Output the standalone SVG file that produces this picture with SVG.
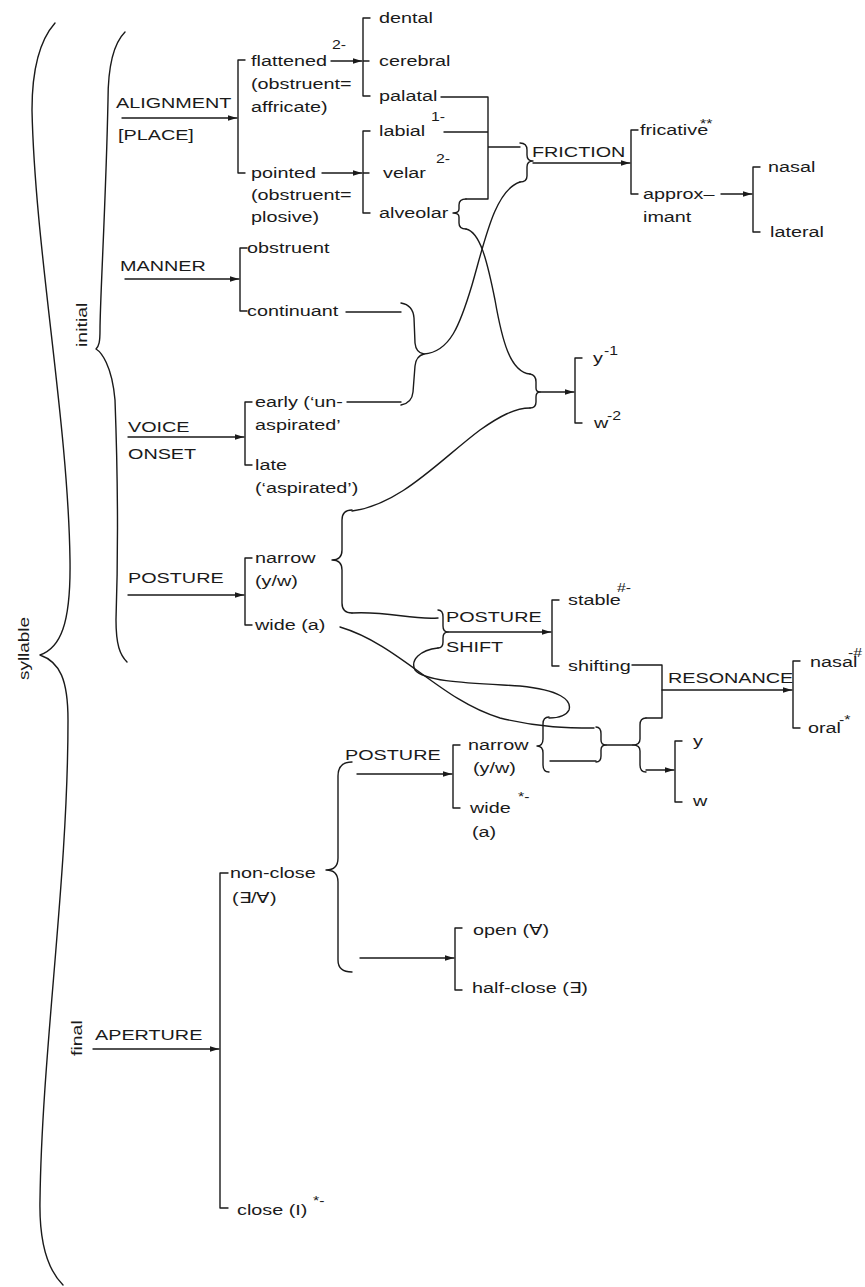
<svg xmlns="http://www.w3.org/2000/svg" width="865" height="1287" viewBox="0 0 865 1287">
<style>
.t{font-family:"Liberation Sans",Arial,sans-serif;font-size:15px;fill:#1a1a1a}
.s{font-family:"Liberation Sans",Arial,sans-serif;font-size:12px;fill:#1a1a1a}
.c{fill:none;stroke:#1a1a1a;stroke-width:1.4;stroke-linecap:round;stroke-linejoin:round}
.a{marker-end:url(#ah)}
</style>
<defs>
<marker id="ah" markerWidth="10" markerHeight="8" refX="9" refY="4" orient="auto" markerUnits="userSpaceOnUse"><path d="M0,1.2 L9,4 L0,6.8 Z" fill="#1a1a1a"/></marker>
</defs>
<rect width="865" height="1287" fill="#ffffff"/>

<g id="connectors">
<path class="c" d="M55,23 C40,40 32,70 32,110 C35,250 68,420 70,560 C71,625 60,648 40,655 C60,662 68,680 68,720 C68,880 42,1050 40,1200 C39,1245 48,1270 63,1285"/>
<path class="c" d="M125,32 C112,45 108,70 108,100 C106,200 100,300 100,330 C100,342 99,346 96,349 C101,352 112,365 115,400 C118,480 118,560 116,620 C116,645 120,655 127,662"/>
<path class="c a" d="M122,118 H237"/>
<path class="c" d="M245,60 H238 V173 H245"/>
<path class="c a" d="M331,61 H362"/>
<path class="c" d="M370,18 H363 V96 H370 M363,61 H369"/>
<path class="c a" d="M322,173 H362"/>
<path class="c" d="M370,131 H363 V213 H370 M363,173 H369"/>
<path class="c" d="M441,97 H488 V199 H466 M444,132 H488 M488,147 H520"/>
<path class="c" d="M466,199 Q459,199 459,205 L459,209 Q459,213 453,213 Q459,213 459,217 L459,223 Q459,229 466,229"/>
<path class="c" d="M520,143 Q527,143 527,150 L527,155 Q527,161 533,161 Q527,161 527,167 L527,176 Q527,182 520,182"/>
<path class="c a" d="M533,163 H630"/>
<path class="c" d="M638,130 H631 V194 H638"/>
<path class="c a" d="M721,194 H752"/>
<path class="c" d="M760,167 H753 V232 H760"/>
<path class="c a" d="M125,279 H239"/>
<path class="c" d="M247,248 H240 V311 H247"/>
<path class="c" d="M346,312 H401"/>
<path class="c" d="M347,402 H401"/>
<path class="c" d="M401,303 Q413,305 414,318 L415,343 Q416,353 424,354 Q416,356 415,366 L413,392 Q412,403 401,405"/>
<path class="c" d="M424,354 C450,352 460,325 472,285 C485,240 495,190 520,182"/>
<path class="c" d="M466,229 C480,232 487,260 495,300 C502,340 510,372 530,374"/>
<path class="c" d="M530,374 Q536,375 536,382 L536,388 Q536,392 540,392 Q536,392 536,397 L536,402 Q536,408 530,408"/>
<path class="c a" d="M540,392 H574"/>
<path class="c" d="M582,358 H575 V423 H582"/>
<path class="c a" d="M128,437 H244"/>
<path class="c" d="M252,402 H245 V465 H252"/>
<path class="c a" d="M128,595 H244"/>
<path class="c" d="M252,558 H245 V625 H252"/>
<path class="c" d="M352,510 Q342,510 342,520 L342,550 Q342,560 332,560 Q342,560 342,570 L342,603 Q342,613 352,613"/>
<path class="c" d="M352,511 C400,505 440,460 480,430 C500,416 515,408 530,408"/>
<path class="c" d="M352,613 C390,611 410,620 438,618"/>
<path class="c" d="M438,610 Q443,610 443,617 L443,626 Q443,632 448,632 Q443,632 443,638 L443,642 Q443,648 438,648"/>
<path class="c a" d="M448,632 H551"/>
<path class="c" d="M559,600 H552 V666 H559"/>
<path class="c" d="M438,648 C420,650 410,660 415,670 C425,682 470,683 520,686 C560,690 572,700 569,710 C566,716 558,718 549,718"/>
<path class="c" d="M340,627 C400,645 440,700 500,718 C540,728 570,728 594,728"/>
<path class="c" d="M549,717 Q543,717 543,724 L543,739 Q543,746 537,746 Q543,746 543,753 L543,765 Q543,772 549,772"/>
<path class="c" d="M550,761 H596"/>
<path class="c" d="M596,727 Q601,727 601,734 L601,740 Q601,745 606,745 Q601,745 601,750 L601,756 Q601,762 596,762"/>
<path class="c" d="M606,745 H633"/>
<path class="c" d="M646,718 Q640,718 640,725 L640,739 Q640,745 633,745 Q640,745 640,751 L640,765 Q640,772 646,772"/>
<path class="c" d="M646,718 H662 V665 H632"/>
<path class="c a" d="M662,690 H792"/>
<path class="c" d="M800,661 H793 V728 H800"/>
<path class="c a" d="M646,770 H674"/>
<path class="c" d="M682,741 H675 V802 H682"/>
<path class="c a" d="M357,774 H452"/>
<path class="c" d="M460,745 H453 V808 H460"/>
<path class="c" d="M352,762 Q338,762 338,776 L338,858 Q338,870 326,870 Q338,870 338,882 L338,960 Q338,972 352,972"/>
<path class="c a" d="M360,958 H454"/>
<path class="c" d="M462,928 H455 V990 H462"/>
<path class="c a" d="M93,1049 H219"/>
<path class="c" d="M228,873 H220 V1208 H228"/>
</g>

<g id="n-syllable"><text class="t" transform="matrix(0 -1.26 1 0 29 680)">syllable</text></g>
<g id="n-initial"><text class="t" transform="matrix(0 -1.3 1 0 87 347)">initial</text></g>
<g id="n-final"><text class="t" transform="matrix(0 -1.3 1 0 82 1056)">final</text></g>

<g id="n-alignment">
<text class="t" transform="matrix(1.32 0 0 1 116 108)">ALIGNMENT</text>
<text class="t" transform="matrix(1.32 0 0 1 118 140)">[PLACE]</text>
</g>
<g id="n-flattened">
<text class="t" transform="matrix(1.32 0 0 1 251 66)">flattened</text>
<text class="s" transform="matrix(1.32 0 0 1 332 49)">2-</text>
<text class="t" transform="matrix(1.32 0 0 1 251 89)">(obstruent=</text>
<text class="t" transform="matrix(1.32 0 0 1 251 112)">affricate)</text>
</g>
<g id="n-pointed">
<text class="t" transform="matrix(1.32 0 0 1 251 178)">pointed</text>
<text class="t" transform="matrix(1.32 0 0 1 251 200)">(obstruent=</text>
<text class="t" transform="matrix(1.32 0 0 1 251 222)">plosive)</text>
</g>
<g id="n-dental"><text class="t" transform="matrix(1.32 0 0 1 379 23)">dental</text></g>
<g id="n-cerebral"><text class="t" transform="matrix(1.32 0 0 1 379 66)">cerebral</text></g>
<g id="n-palatal"><text class="t" transform="matrix(1.32 0 0 1 379 101)">palatal</text></g>
<g id="n-labial"><text class="t" transform="matrix(1.32 0 0 1 379 136)">labial</text><text class="s" transform="matrix(1.32 0 0 1 431 121)">1-</text></g>
<g id="n-velar"><text class="t" transform="matrix(1.32 0 0 1 383 178)">velar</text><text class="s" transform="matrix(1.32 0 0 1 436 163)">2-</text></g>
<g id="n-alveolar"><text class="t" transform="matrix(1.32 0 0 1 379 218)">alveolar</text></g>
<g id="n-friction"><text class="t" transform="matrix(1.32 0 0 1 532 157)">FRICTION</text></g>
<g id="n-fricative"><text class="t" transform="matrix(1.32 0 0 1 640 135)">fricative</text><text class="s" transform="matrix(1.32 0 0 1 700 128)">**</text></g>
<g id="n-approximant">
<text class="t" transform="matrix(1.32 0 0 1 643 199)">approx–</text>
<text class="t" transform="matrix(1.32 0 0 1 643 222)">imant</text>
</g>
<g id="n-nasal1"><text class="t" transform="matrix(1.32 0 0 1 768 172)">nasal</text></g>
<g id="n-lateral"><text class="t" transform="matrix(1.32 0 0 1 770 237)">lateral</text></g>

<g id="n-manner"><text class="t" transform="matrix(1.32 0 0 1 120 271)">MANNER</text></g>
<g id="n-obstruent"><text class="t" transform="matrix(1.32 0 0 1 247 253)">obstruent</text></g>
<g id="n-continuant"><text class="t" transform="matrix(1.32 0 0 1 247 316)">continuant</text></g>

<g id="n-voice">
<text class="t" transform="matrix(1.32 0 0 1 128 432)">VOICE</text>
<text class="t" transform="matrix(1.32 0 0 1 128 459)">ONSET</text>
</g>
<g id="n-early">
<text class="t" transform="matrix(1.32 0 0 1 255 407)">early (‘un-</text>
<text class="t" transform="matrix(1.32 0 0 1 255 430)">aspirated’</text>
</g>
<g id="n-late">
<text class="t" transform="matrix(1.32 0 0 1 255 470)">late</text>
<text class="t" transform="matrix(1.32 0 0 1 255 493)">(‘aspirated’)</text>
</g>
<g id="n-yw1">
<text class="t" transform="matrix(1.32 0 0 1 593 363)">y</text><text class="s" transform="matrix(1.32 0 0 1 604 355)">-1</text>
<text class="t" transform="matrix(1.32 0 0 1 594 428)">w</text><text class="s" transform="matrix(1.32 0 0 1 607 420)">-2</text>
</g>

<g id="n-posture1"><text class="t" transform="matrix(1.32 0 0 1 128 583)">POSTURE</text></g>
<g id="n-narrow1">
<text class="t" transform="matrix(1.32 0 0 1 255 563)">narrow</text>
<text class="t" transform="matrix(1.32 0 0 1 255 586)">(y/w)</text>
</g>
<g id="n-wide1"><text class="t" transform="matrix(1.32 0 0 1 255 630)">wide (a)</text></g>

<g id="n-postureshift">
<text class="t" transform="matrix(1.32 0 0 1 446 622)">POSTURE</text>
<text class="t" transform="matrix(1.32 0 0 1 446 652)">SHIFT</text>
</g>
<g id="n-stable"><text class="t" transform="matrix(1.32 0 0 1 568 605)">stable</text><text class="s" transform="matrix(1.32 0 0 1 617 592)">#-</text></g>
<g id="n-shifting"><text class="t" transform="matrix(1.32 0 0 1 568 671)">shifting</text></g>
<g id="n-resonance"><text class="t" transform="matrix(1.32 0 0 1 668 683)">RESONANCE</text></g>
<g id="n-nasal2"><text class="t" transform="matrix(1.32 0 0 1 810 667)">nasal</text><text class="s" transform="matrix(1.32 0 0 1 848 657)">-#</text></g>
<g id="n-oral"><text class="t" transform="matrix(1.32 0 0 1 808 733)">oral</text><text class="s" transform="matrix(1.32 0 0 1 839 724)">-*</text></g>

<g id="n-posture2"><text class="t" transform="matrix(1.32 0 0 1 345 760)">POSTURE</text></g>
<g id="n-narrow2">
<text class="t" transform="matrix(1.32 0 0 1 468 750)">narrow</text>
<text class="t" transform="matrix(1.32 0 0 1 473 773)">(y/w)</text>
</g>
<g id="n-wide2">
<text class="t" transform="matrix(1.32 0 0 1 470 813)">wide</text><text class="s" transform="matrix(1.32 0 0 1 518 801)">*-</text>
<text class="t" transform="matrix(1.32 0 0 1 472 837)">(a)</text>
</g>
<g id="n-yw2">
<text class="t" transform="matrix(1.32 0 0 1 693 746)">y</text>
<text class="t" transform="matrix(1.32 0 0 1 693 806)">w</text>
</g>

<g id="n-aperture"><text class="t" transform="matrix(1.32 0 0 1 95 1040)">APERTURE</text></g>
<g id="n-nonclose">
<text class="t" transform="matrix(1.32 0 0 1 230 878)">non-close</text>
<text class="t" transform="matrix(1.32 0 0 1 232 903)">(∃/∀)</text>
</g>
<g id="n-open"><text class="t" transform="matrix(1.32 0 0 1 473 935)">open (∀)</text></g>
<g id="n-halfclose"><text class="t" transform="matrix(1.32 0 0 1 472 993)">half-close (∃)</text></g>
<g id="n-close"><text class="t" transform="matrix(1.32 0 0 1 237 1215)">close (I)</text><text class="s" transform="matrix(1.32 0 0 1 313 1205)">*-</text></g>
</svg>
